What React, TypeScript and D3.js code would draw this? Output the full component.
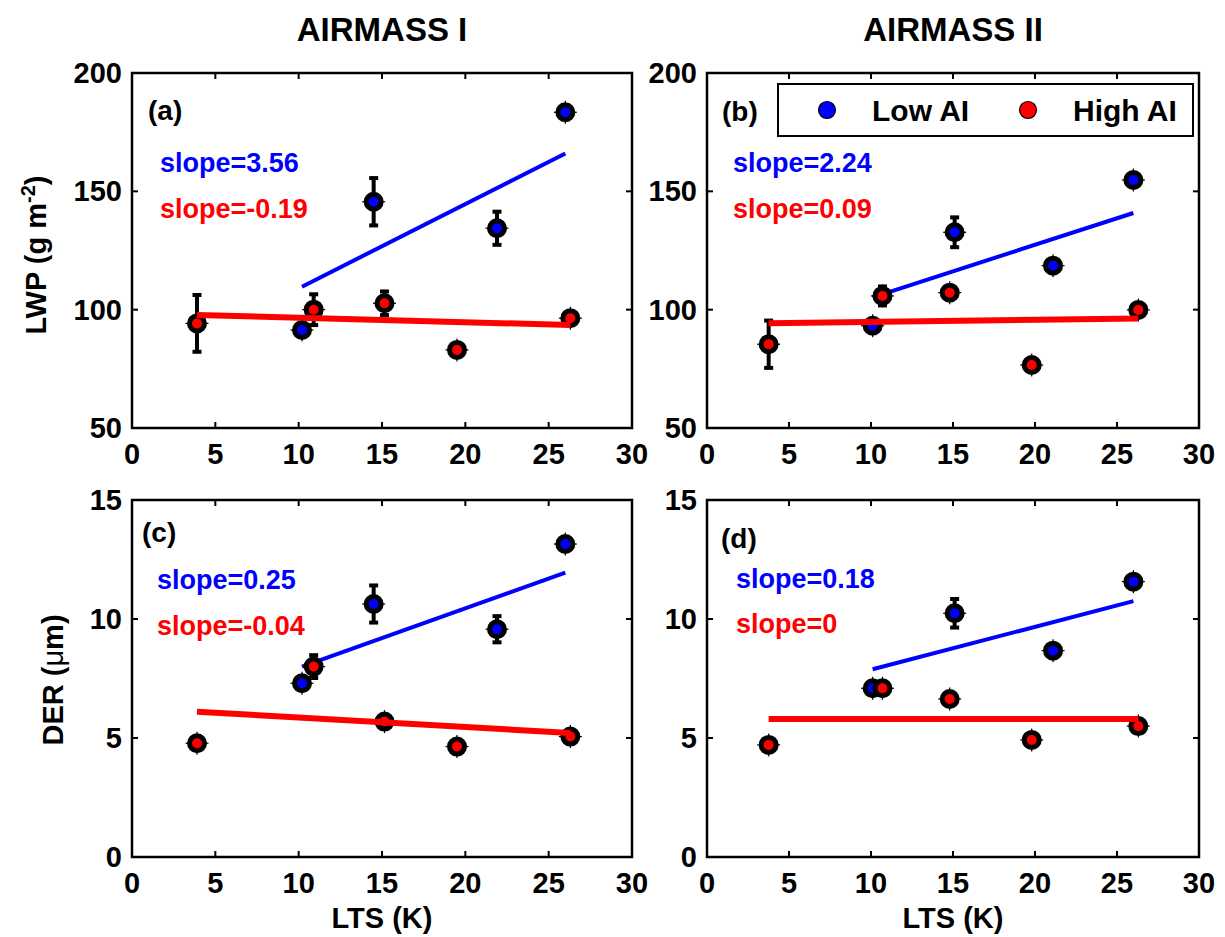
import React from 'react';
import * as d3 from 'd3';

// ---- Data -------------------------------------------------------------
const ltsTicks = [0, 5, 10, 15, 20, 25, 30];
const lwpTicks = [50, 100, 150, 200];
const derTicks = [0, 5, 10, 15];
const columnTitles = ['AIRMASS I', 'AIRMASS II'];
const seriesNames = ['Low AI', 'High AI'];

// Airmass I
const ltsLowI = [10.2, 14.5, 21.9, 26.0];
const ltsHighI = [3.9, 10.9, 15.15, 19.5, 26.3];
const lwpLowI = [91.4, 145.6, 134.4, 183.4];
const lwpLowIErr = [2, 10, 7, 3];
const lwpHighI = [94.2, 100.0, 102.7, 83.0, 96.4];
const lwpHighIErr = [12, 6.5, 5, 2, 2];
const derLowI = [7.3, 10.63, 9.57, 13.15];
const derLowIErr = [0.2, 0.78, 0.55, 0.2];
const derHighI = [4.78, 8.0, 5.69, 4.64, 5.06];
const derHighIErr = [0.25, 0.48, 0.15, 0.15, 0.2];

// Airmass II
const ltsLowII = [10.1, 15.1, 21.1, 26.0];
const ltsHighII = [3.76, 10.7, 14.8, 19.8, 26.3];
const lwpLowII = [93.2, 132.7, 118.6, 154.8];
const lwpLowIIErr = [2, 6.3, 2, 2];
const lwpHighII = [85.4, 105.8, 107.2, 76.6, 99.9];
const lwpHighIIErr = [10, 4, 2, 2, 2];
const derLowII = [7.09, 10.24, 8.67, 11.57];
const derLowIIErr = [0.2, 0.6, 0.2, 0.2];
const derHighII = [4.71, 7.09, 6.64, 4.92, 5.5];
const derHighIIErr = [0.2, 0.2, 0.2, 0.2, 0.2];

// Linear fits: [slope, intercept]
const fitLowA = [3.56, 73.4];
const fitHighA = [-0.19, 98.5];
const fitLowB = [2.24, 82.6];
const fitHighB = [0.09, 93.9];
const fitLowC = [0.25, 5.45];
const fitHighC = [-0.04, 6.26];
const fitLowD = [0.18, 6.07];
const fitHighD = [0, 5.8];

// ---- Styling ----------------------------------------------------------
const FONT = '"Liberation Sans", Arial, Helvetica, sans-serif';
const BLUE = '#0000ff';
const RED = '#ff0000';

type Series = { x: number[]; y: number[]; err: number[]; fit: number[]; color: string; width: number };

type PanelDef = {
  tag: string;
  box: [number, number, number, number]; // left, right, top, bottom
  yDomain: [number, number];
  yTicks: number[];
  low: Series;
  high: Series;
  tagPos: [number, number];
  slopeX: number;
  slopeY: [number, number];
};

const panels: PanelDef[] = [
  {
    tag: '(a)', box: [132, 632, 73, 428], yDomain: [50, 200], yTicks: lwpTicks,
    low: { x: ltsLowI, y: lwpLowI, err: lwpLowIErr, fit: fitLowA, color: BLUE, width: 4 },
    high: { x: ltsHighI, y: lwpHighI, err: lwpHighIErr, fit: fitHighA, color: RED, width: 6 },
    tagPos: [148, 120], slopeX: 160, slopeY: [172, 218],
  },
  {
    tag: '(b)', box: [707, 1199, 73, 428], yDomain: [50, 200], yTicks: lwpTicks,
    low: { x: ltsLowII, y: lwpLowII, err: lwpLowIIErr, fit: fitLowB, color: BLUE, width: 4 },
    high: { x: ltsHighII, y: lwpHighII, err: lwpHighIIErr, fit: fitHighB, color: RED, width: 6 },
    tagPos: [722, 121], slopeX: 733, slopeY: [172, 218],
  },
  {
    tag: '(c)', box: [132, 632, 500, 857], yDomain: [0, 15], yTicks: derTicks,
    low: { x: ltsLowI, y: derLowI, err: derLowIErr, fit: fitLowC, color: BLUE, width: 4 },
    high: { x: ltsHighI, y: derHighI, err: derHighIErr, fit: fitHighC, color: RED, width: 6 },
    tagPos: [142, 542], slopeX: 157, slopeY: [589, 635],
  },
  {
    tag: '(d)', box: [707, 1199, 500, 857], yDomain: [0, 15], yTicks: derTicks,
    low: { x: ltsLowII, y: derLowII, err: derLowIIErr, fit: fitLowD, color: BLUE, width: 4 },
    high: { x: ltsHighII, y: derHighII, err: derHighIIErr, fit: fitHighD, color: RED, width: 6 },
    tagPos: [721, 548], slopeX: 736, slopeY: [588, 633],
  },
];

function slopeText(s: number) {
  return `slope=${s}`;
}

type Scale = d3.ScaleLinear<number, number>;

function FitLine({ s, xs, ys }: { s: Series; xs: Scale; ys: Scale }) {
  const [x0, x1] = d3.extent(s.x) as [number, number];
  const line = d3.line<number>().x((d) => xs(d)).y((d) => ys(s.fit[0] * d + s.fit[1]));
  return <path d={line([x0, x1]) || ''} stroke={s.color} strokeWidth={s.width} fill="none" />;
}

function Markers({ s, xs, ys }: { s: Series; xs: Scale; ys: Scale }) {
  return (
    <g>
      {s.x.map((xv, i) => {
        const cx = xs(xv);
        const cy = ys(s.y[i]);
        const yTop = ys(s.y[i] + s.err[i]);
        const yBot = ys(s.y[i] - s.err[i]);
        return (
          <g key={i}>
            <line x1={cx} x2={cx} y1={yTop} y2={yBot} stroke="#000" strokeWidth={4} />
            <line x1={cx - 4.5} x2={cx + 4.5} y1={yTop} y2={yTop} stroke="#000" strokeWidth={4} />
            <line x1={cx - 4.5} x2={cx + 4.5} y1={yBot} y2={yBot} stroke="#000" strokeWidth={4} />
            <line x1={cx - 11.5} x2={cx + 11.5} y1={cy} y2={cy} stroke="#000" strokeWidth={1.2} />
            <line x1={cx} x2={cx} y1={cy - 11.5} y2={cy + 11.5} stroke="#000" strokeWidth={1.2} />
            <circle cx={cx} cy={cy} r={7.5} fill={s.color} stroke="#000" strokeWidth={5} />
          </g>
        );
      })}
    </g>
  );
}

function Panel({ p }: { p: PanelDef }) {
  const [l, r, t, b] = p.box;
  const xs = d3.scaleLinear().domain([0, 30]).range([l, r]);
  const ys = d3.scaleLinear().domain(p.yDomain).range([b, t]);
  const tickLen = 6;
  return (
    <g>
      {/* ticks on all four sides, pointing inward */}
      {ltsTicks.map((v) => (
        <g key={'xt' + v}>
          <line x1={xs(v)} x2={xs(v)} y1={b} y2={b - tickLen} stroke="#000" strokeWidth={2} />
          <line x1={xs(v)} x2={xs(v)} y1={t} y2={t + tickLen} stroke="#000" strokeWidth={2} />
          <text x={xs(v)} y={b + 36} textAnchor="middle" fontFamily={FONT} fontWeight="bold" fontSize={29} fill="#000">
            {v}
          </text>
        </g>
      ))}
      {p.yTicks.map((v) => (
        <g key={'yt' + v}>
          <line x1={l} x2={l + tickLen} y1={ys(v)} y2={ys(v)} stroke="#000" strokeWidth={2} />
          <line x1={r} x2={r - tickLen} y1={ys(v)} y2={ys(v)} stroke="#000" strokeWidth={2} />
          <text x={l - 10} y={ys(v) + 10} textAnchor="end" fontFamily={FONT} fontWeight="bold" fontSize={29} fill="#000">
            {v}
          </text>
        </g>
      ))}

      <Markers s={p.low} xs={xs} ys={ys} />
      <FitLine s={p.low} xs={xs} ys={ys} />
      <Markers s={p.high} xs={xs} ys={ys} />
      <FitLine s={p.high} xs={xs} ys={ys} />

      <rect x={l} y={t} width={r - l} height={b - t} fill="none" stroke="#000" strokeWidth={2.5} />

      <text x={p.tagPos[0]} y={p.tagPos[1]} fontFamily={FONT} fontWeight="bold" fontSize={28} fill="#000">
        {p.tag}
      </text>
      <text x={p.slopeX} y={p.slopeY[0]} fontFamily={FONT} fontWeight="bold" fontSize={27} fill={BLUE}>
        {slopeText(p.low.fit[0])}
      </text>
      <text x={p.slopeX} y={p.slopeY[1]} fontFamily={FONT} fontWeight="bold" fontSize={27} fill={RED}>
        {slopeText(p.high.fit[0])}
      </text>
    </g>
  );
}

function Legend() {
  const x0 = 778, y0 = 84, w = 415, h = 52;
  return (
    <g>
      <rect x={x0} y={y0} width={w} height={h} fill="#fff" stroke="#000" strokeWidth={2} />
      <circle cx={827} cy={110} r={8.5} fill={BLUE} stroke="#000" strokeWidth={1.2} />
      <text x={872} y={121} fontFamily={FONT} fontWeight="bold" fontSize={30} fill="#000">
        {seriesNames[0]}
      </text>
      <circle cx={1028} cy={110} r={8.5} fill={RED} stroke="#000" strokeWidth={1.2} />
      <text x={1073} y={121} fontFamily={FONT} fontWeight="bold" fontSize={30} fill="#000">
        {seriesNames[1]}
      </text>
    </g>
  );
}

export default function App() {
  return (
    <svg
      width={1225}
      height={937}
      viewBox="0 0 1225 937"
      style={{ position: 'absolute', left: 0, top: 0, background: '#fff' }}
    >
      <rect x={0} y={0} width={1225} height={937} fill="#fff" />
      <text x={382} y={41} textAnchor="middle" fontFamily={FONT} fontWeight="bold" fontSize={33} fill="#000">
        {columnTitles[0]}
      </text>
      <text x={953} y={41} textAnchor="middle" fontFamily={FONT} fontWeight="bold" fontSize={33} fill="#000">
        {columnTitles[1]}
      </text>

      {panels.map((p) => (
        <Panel key={p.tag} p={p} />
      ))}
      <Legend />

      {/* y-axis labels */}
      <text
        transform="translate(46,255) rotate(-90)"
        textAnchor="middle"
        fontFamily={FONT}
        fontWeight="bold"
        fontSize={29}
        fill="#000"
      >
        LWP (g m<tspan dy={-11} fontSize={20}>-2</tspan>
        <tspan dy={11}>)</tspan>
      </text>
      <text
        transform="translate(63,680) rotate(-90)"
        textAnchor="middle"
        fontFamily={FONT}
        fontWeight="bold"
        fontSize={29}
        fill="#000"
      >
        DER (<tspan fontWeight="normal">μ</tspan>m)
      </text>

      {/* x-axis labels */}
      <text x={382} y={928} textAnchor="middle" fontFamily={FONT} fontWeight="bold" fontSize={29} fill="#000">
        LTS (K)
      </text>
      <text x={953} y={928} textAnchor="middle" fontFamily={FONT} fontWeight="bold" fontSize={29} fill="#000">
        LTS (K)
      </text>
    </svg>
  );
}
